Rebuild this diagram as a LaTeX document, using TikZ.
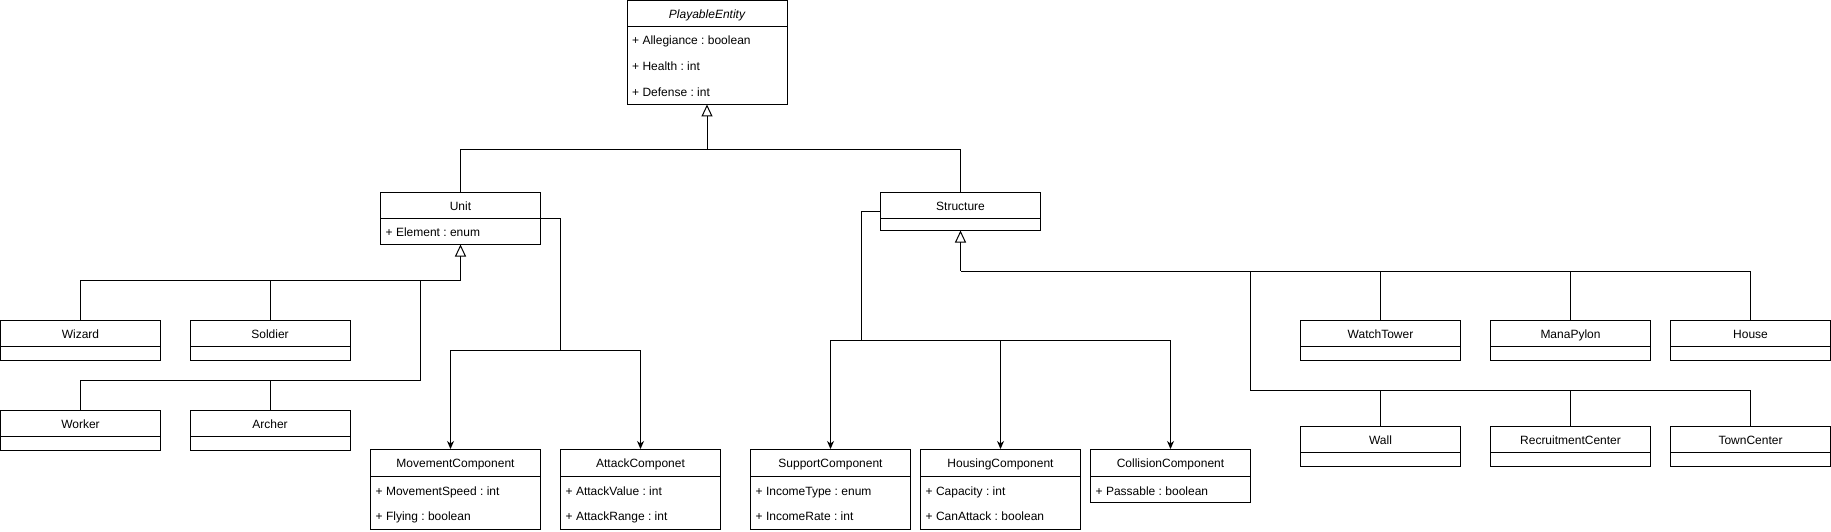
\documentclass[tikz,border=0pt]{standalone}
\usepackage{fontspec}
\setmainfont{Liberation Sans}
\frenchspacing
\usetikzlibrary{arrows.meta}
\tikzset{
  box/.style={draw=black, line width=1pt, fill=white, rectangle, inner sep=0pt, outer sep=0pt},
  sep/.style={draw=black, line width=1pt},
  txt/.style={inner sep=0pt, text height=8.6pt, text depth=2.5pt, yshift=-2.2pt, font=\fontsize{12pt}{14pt}\selectfont\frenchspacing},
  attr/.style={txt, anchor=west},
  conn/.style={draw=black, line width=1pt},
  gen/.style={conn, -{Triangle[open, length=12pt, width=11pt, line width=1pt]}},
  assoc/.style={conn, -{Stealth[length=8pt, width=7pt, inset=2.5pt]}},
}
\newcommand{\umlcls}[7]{%
  \node[box, minimum width=#4pt, minimum height=#5pt, anchor=north west] (#1) at (#2,#3) {};
  \draw[sep] ([yshift=-#6pt]#1.north west) -- ([yshift=-#6pt]#1.north east);
  \node[txt] (#1-t) at ([yshift={-#6pt/2}]#1.north) {#7};
}
\newcommand{\umlattr}[4]{%
  \node[attr] (#1) at ([xshift=5pt, yshift=-#3pt]#2.north west) {#4};
}
\begin{document}
\begin{tikzpicture}[x=1pt, y=-1pt]
\useasboundingbox (0,0) rectangle (1831,532);

% classes
\umlcls{pe}{627}{0.5}{160}{104}{26}{\itshape PlayableEntity}
\umlattr{pe-a1}{pe}{38.5}{+ Allegiance : boolean}
\umlattr{pe-a2}{pe}{64.5}{+ Health : int}
\umlattr{pe-a3}{pe}{90.5}{+ Defense : int}

\umlcls{unit}{380.5}{192.5}{160}{52}{26}{Unit}
\umlattr{unit-a1}{unit}{38.5}{+ Element : enum}

\umlcls{structure}{880.5}{192.5}{160}{38}{26}{Structure}

\umlcls{wizard}{0.5}{320}{160}{40}{26}{Wizard}
\umlcls{soldier}{190}{320}{160}{40}{26}{Soldier}
\umlcls{worker}{0.5}{410}{160}{40}{26}{Worker}
\umlcls{archer}{190}{410}{160}{40}{26}{Archer}

\umlcls{movement}{370.5}{449}{170}{80}{27}{MovementComponent}
\umlattr{movement-a1}{movement}{41}{+ MovementSpeed : int}
\umlattr{movement-a2}{movement}{66}{+ Flying : boolean}
\umlcls{attack}{560.5}{449}{160}{80}{27}{AttackComponet}
\umlattr{attack-a1}{attack}{41}{+ AttackValue : int}
\umlattr{attack-a2}{attack}{66}{+ AttackRange : int}

\umlcls{support}{750.5}{449}{160}{80}{27}{SupportComponent}
\umlattr{support-a1}{support}{41}{+ IncomeType : enum}
\umlattr{support-a2}{support}{66}{+ IncomeRate : int}
\umlcls{housing}{920.5}{449}{160}{80}{27}{HousingComponent}
\umlattr{housing-a1}{housing}{41}{+ Capacity : int}
\umlattr{housing-a2}{housing}{66}{+ CanAttack : boolean}
\umlcls{collision}{1090.5}{449}{160}{53}{27}{CollisionComponent}
\umlattr{collision-a1}{collision}{41}{+ Passable : boolean}

\umlcls{watchtower}{1300.5}{320}{160}{40}{26}{WatchTower}
\umlcls{manapylon}{1490.5}{320}{160}{40}{26}{ManaPylon}
\umlcls{house}{1670.5}{320}{160}{40}{26}{House}
\umlcls{wall}{1300.5}{426}{160}{40}{26}{Wall}
\umlcls{recruitment}{1490.5}{426}{160}{40}{26}{RecruitmentCenter}
\umlcls{towncenter}{1670.5}{426}{160}{40}{26}{TownCenter}

% generalization to PlayableEntity
\coordinate (pebus) at (707,149.5);
\draw[conn] (unit.north) |- (pebus);
\draw[conn] (structure.north) |- (pebus);
\draw[gen] (pebus) -- (pe.south);

% generalization to Unit
\coordinate (ubus) at (460.5,280.5);
\coordinate (ubus2) at (420.5,280.5);
\coordinate (wbus) at (420.5,380.5);
\draw[conn] (wizard.north) |- (ubus);
\draw[conn] (soldier.north) |- (ubus);
\draw[conn] (worker.north) |- (wbus) -- (ubus2);
\draw[conn] (archer.north) |- (wbus);
\draw[gen] (ubus) -- (unit.south);

% associations from Unit
\coordinate (ujoin) at (560.5,350.5);
\draw[conn] (unit.east) -| (ujoin);
\draw[assoc] (ujoin) -| ([xshift=-5pt]movement.north);
\draw[assoc] (ujoin) -| (attack.north);

% associations from Structure
\coordinate (sjoin) at (861,340.5);
\draw[conn] (structure.west) -| (sjoin);
\draw[assoc] (sjoin) -| (support.north);
\draw[assoc] (sjoin) -| (housing.north);
\draw[assoc] (sjoin) -| (collision.north);

% generalization to Structure
\coordinate (sbus) at (960.5,271);
\coordinate (sbus2) at (1250.5,271);
\coordinate (sbus3) at (1250.5,390.5);
\draw[conn] (watchtower.north) |- (sbus);
\draw[conn] (manapylon.north) |- (sbus);
\draw[conn] (house.north) |- (sbus);
\draw[conn] (wall.north) |- (sbus3) -- (sbus2);
\draw[conn] (recruitment.north) |- (sbus3);
\draw[conn] (towncenter.north) |- (sbus3);
\draw[gen] (sbus) -- (structure.south);
\end{tikzpicture}
\end{document}
